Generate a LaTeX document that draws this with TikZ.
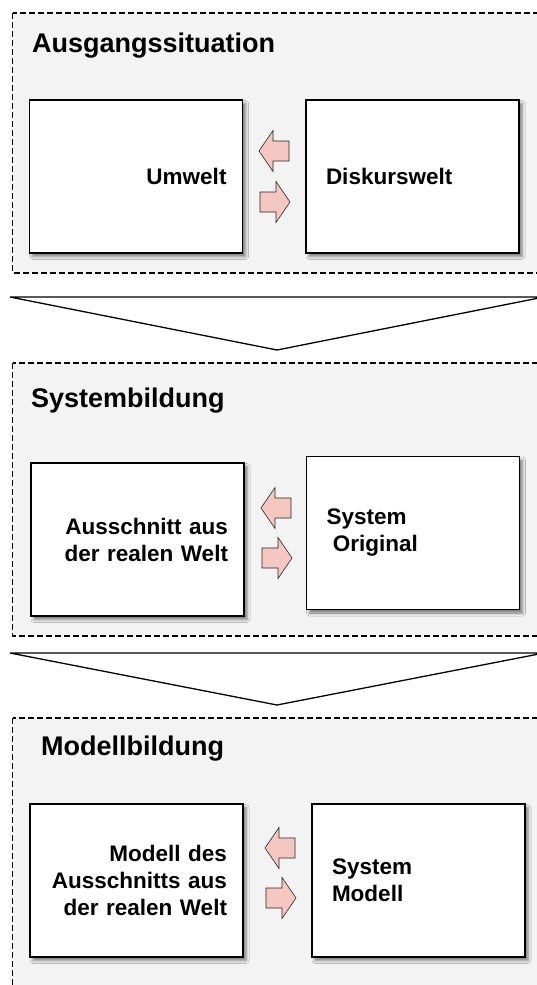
\documentclass[tikz,border=0pt]{standalone}
\usepackage{fontspec}
\setmainfont{Liberation Sans}
\usetikzlibrary{shadows.blur, positioning}
\definecolor{panelgray}{RGB}{243,243,243}
\definecolor{arrowpink}{RGB}{245,199,193}

\tikzset{
  panel/.style={draw, dash pattern=on 6pt off 3pt, line width=1.3pt, fill=panelgray},
  titel/.style={anchor=base west, inner sep=0pt, font=\fontsize{27}{32}\selectfont\bfseries},
  welt/.style={draw, line width=1.6pt, fill=white, minimum height=153pt, font=\fontsize{22.5}{27}\selectfont\bfseries,
    blur shadow={shadow xshift=3pt, shadow yshift=-3.5pt, shadow blur radius=3pt, shadow opacity=50}},
  links/.style={welt, align=right, text width=181pt, inner xsep=16pt},
  rechts/.style={welt, align=left, text width=173pt, inner xsep=20pt},
  trichter/.style={draw, line width=1.3pt, fill=white},
  pfeil/.pic={\draw[fill=arrowpink, draw=black!85, line width=0.6pt]
    (-15,-10) -- (1,-10) -- (1,-20.5) -- (15,0) -- (1,20.5) -- (1,10) -- (-15,10) -- cycle;}
}

\begin{document}
\begin{tikzpicture}[x=1pt, y=-1pt]
  \useasboundingbox (0,0) rectangle (537,985);

  \draw[panel] (12.5,13) rectangle (560,273);
  \node[titel] (ausgang) at (32,52) {Ausgangssituation};
  \node[links] (umwelt) at (136,176.5) {Umwelt};
  \node[rechts] (diskurs) at (412.5,176.5) {Diskurswelt};
  \pic[xscale=-1] at (274,151) {pfeil};
  \pic at (275,202) {pfeil};

  \draw[trichter] (10,297) -- (544,297) -- (277,350) -- cycle;

  \draw[panel] (12.5,363) rectangle (560,636);
  \node[titel] (systembildung) at (31,407) {Systembildung};
  \node[links] (ausschnitt) at (137.5,539.5) {Ausschnitt aus\\der realen Welt};
  \node[rechts] (original) at (413,533) {System\\\hspace*{0.28em}Original};
  \pic[xscale=-1] at (276,508) {pfeil};
  \pic at (277,558) {pfeil};

  \draw[trichter] (10,653) -- (544,653) -- (277,705) -- cycle;

  \draw[panel] (12.5,718) rectangle (560,1000);
  \node[titel] (modellbildung) at (41,755) {Modellbildung};
  \node[links] (abbild) at (136.5,880.5) {Modell des\\Ausschnitts aus\\der realen Welt};
  \node[rechts] (modell) at (418.5,880.5) {System\\Modell};
  \pic[xscale=-1] at (280,848) {pfeil};
  \pic at (281,898) {pfeil};
\end{tikzpicture}
\end{document}
